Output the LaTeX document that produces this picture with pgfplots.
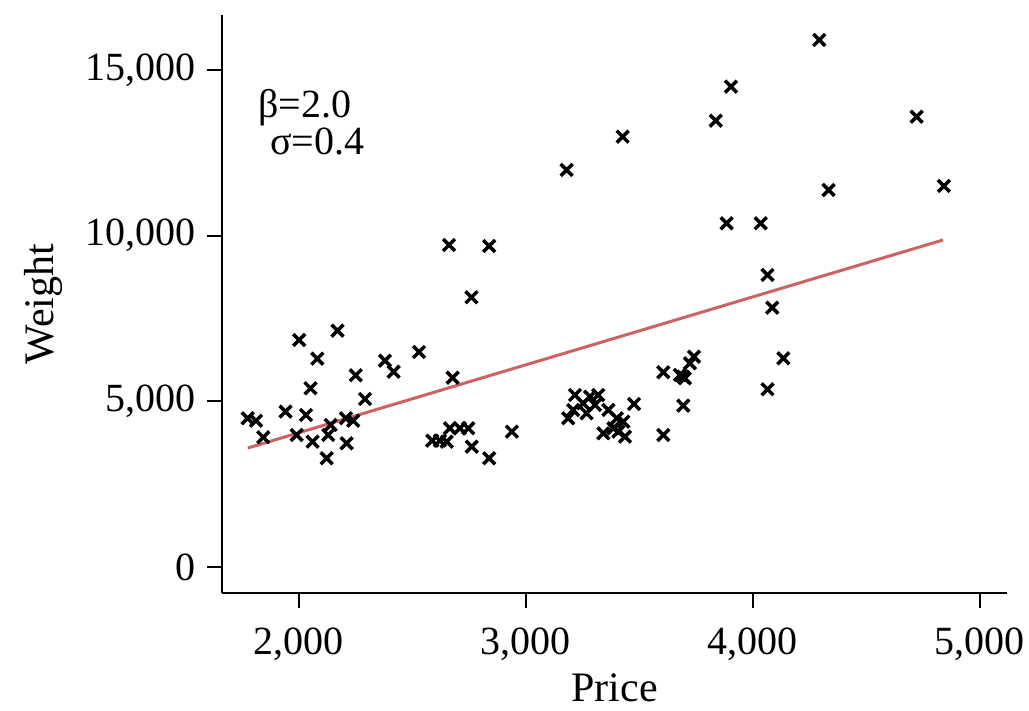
\documentclass[border=0pt]{standalone}
\usepackage{pgfplots}
\pgfplotsset{compat=1.18}
\usepackage{fontspec}
\setmainfont{Liberation Serif}
\definecolor{fitred}{RGB}{205,98,98}
\pgfplotstableread{
x y
1774 4488
1811 4415
1843 3914
1941 4688
1990 3984
2001 6851
2031 4587
2051 5393
2060 3782
2081 6287
2122 3281
2129 3984
2140 4286
2170 7132
2207 4488
2210 3733
2239 4415
2250 5785
2291 5070
2379 6226
2417 5894
2529 6489
2587 3812
2621 3812
2651 3782
2661 9718
2665 4186
2677 5713
2709 4186
2746 4186
2760 8140
2761 3631
2838 9688
2838 3281
2938 4085
3179 11982
3186 4488
3208 4738
3216 5191
3252 4940
3267 4638
3282 5140
3304 4889
3318 5191
3341 4035
3363 4738
3385 4186
3400 4488
3407 4085
3426 12987
3429 4386
3436 3933
3476 4919
3605 5876
3605 3984
3678 5795
3692 5745
3700 5695
3693 4869
3722 6148
3740 6347
3836 13469
3884 10373
3903 14496
4034 10373
4064 8813
4064 5363
4085 7826
4134 6298
4292 15905
4333 11378
4721 13590
4841 11499
}\pts
\begin{document}
\fontsize{20}{24}\selectfont
\begin{tikzpicture}
\path[use as bounding box] (-111pt,-59pt) rectangle (403.5pt,296.5pt);
\begin{axis}[
  scale only axis,
  width=392.5pt, height=289pt,
  xmin=1661, xmax=5119,
  ymin=-785, ymax=16659,
  axis x line*=bottom, axis y line*=left,
  axis line style={line width=1pt, -},
  xtick={2000,3000,4000,5000},
  ytick={0,5000,10000,15000},
  tick align=outside,
  major tick length=7.5pt,
  tick style={line width=1pt, black},
  scaled ticks=false,
  /pgf/number format/.cd, 1000 sep={,}, assume math mode=true,
  /pgfplots/.cd,
  tick label style={font=\fontsize{20}{24}\selectfont},
  xticklabel style={yshift=-3pt},
  yticklabel style={xshift=1pt},
  label style={font=\fontsize{21}{25}\selectfont},
  xlabel={Price},
  ylabel={Weight},
  xlabel style={yshift=7pt},
  ylabel style={yshift=-2pt},
  clip=false,
]
\addplot[only marks, mark=x, mark size=4.2pt, mark options={line width=1.75pt, black}] table[x=x,y=y] {\pts};
\addplot[fitred, line width=1.5pt, no marks] coordinates {(1775,3591) (4837,9869)};
\node[anchor=base west, inner sep=0pt, font=\fontsize{20}{24}\selectfont] at (axis cs:1819,13560) {β=2.0};
\node[anchor=base west, inner sep=0pt, font=\fontsize{20}{24}\selectfont] at (axis cs:1872,12440) {σ=0.4};
\end{axis}
\end{tikzpicture}
\end{document}
